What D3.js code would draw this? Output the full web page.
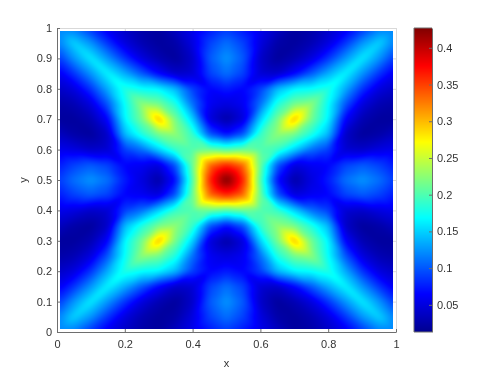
<!DOCTYPE html>
<html>
<head>
<meta charset="utf-8">
<script src="https://d3js.org/d3.v7.min.js"></script>
<style>
  html, body { margin: 0; padding: 0; background: #fff; }
  #chart { position: relative; width: 498px; height: 374px; overflow: hidden; }
  canvas, svg { position: absolute; left: 0; top: 0; }
  text { font-family: "Liberation Sans", Arial, sans-serif; font-size: 11px; fill: #333; }
</style>
</head>
<body>
<div id="chart"></div>
<script>
const xGrid = [0.01, 0.05, 0.1, 0.15, 0.2, 0.25, 0.3, 0.35, 0.4, 0.45, 0.5, 0.55, 0.6, 0.65, 0.7, 0.75, 0.8, 0.85, 0.9, 0.95, 0.99];
const yGrid = [0.99, 0.95, 0.9, 0.85, 0.8, 0.75, 0.7, 0.65, 0.6, 0.55, 0.5, 0.45, 0.4, 0.35, 0.3, 0.25, 0.2, 0.15, 0.1, 0.05, 0.01];

// one row per yGrid entry
const zValues = [
  [.12, .12, .09, .06, .04, .025, .02, .035, .055, .075, .09, .075, .055, .035, .02, .025, .04, .06, .09, .12, .12],
  [.12, .15, .125, .085, .05, .03, .02, .025, .05, .09, .11, .09, .05, .025, .02, .03, .05, .085, .125, .15, .12],
  [.09, .125, .16, .125, .085, .05, .03, .02, .04, .10, .125, .10, .04, .02, .03, .05, .085, .125, .16, .125, .09],
  [.06, .085, .125, .165, .135, .10, .065, .04, .045, .09, .11, .09, .045, .04, .065, .10, .135, .165, .125, .085, .06],
  [.04, .05, .085, .135, .18, .17, .165, .14, .09, .065, .075, .065, .09, .14, .165, .17, .18, .135, .085, .05, .04],
  [.025, .03, .05, .10, .17, .225, .215, .18, .11, .06, .05, .06, .11, .18, .215, .225, .17, .10, .05, .03, .025],
  [.02, .02, .03, .065, .165, .215, .30, .215, .15, .05, .025, .05, .15, .215, .30, .215, .165, .065, .03, .02, .02],
  [.035, .025, .02, .04, .14, .18, .215, .225, .19, .10, .07, .10, .19, .225, .215, .18, .14, .04, .02, .025, .035],
  [.055, .05, .04, .045, .09, .11, .15, .19, .20, .21, .20, .21, .20, .19, .15, .11, .09, .045, .04, .05, .055],
  [.075, .09, .10, .09, .065, .06, .05, .10, .21, .33, .36, .33, .21, .10, .05, .06, .065, .09, .10, .09, .075],
  [.09, .11, .125, .11, .075, .05, .025, .07, .20, .36, .43, .36, .20, .07, .025, .05, .075, .11, .125, .11, .09],
  [.075, .09, .10, .09, .065, .06, .05, .10, .21, .33, .36, .33, .21, .10, .05, .06, .065, .09, .10, .09, .075],
  [.055, .05, .04, .045, .09, .11, .15, .19, .20, .21, .20, .21, .20, .19, .15, .11, .09, .045, .04, .05, .055],
  [.035, .025, .02, .04, .14, .18, .215, .225, .19, .10, .07, .10, .19, .225, .215, .18, .14, .04, .02, .025, .035],
  [.02, .02, .03, .065, .165, .215, .30, .215, .15, .05, .025, .05, .15, .215, .30, .215, .165, .065, .03, .02, .02],
  [.025, .03, .05, .10, .17, .225, .215, .18, .11, .06, .05, .06, .11, .18, .215, .225, .17, .10, .05, .03, .025],
  [.04, .05, .085, .135, .18, .17, .165, .14, .09, .065, .075, .065, .09, .14, .165, .17, .18, .135, .085, .05, .04],
  [.06, .085, .125, .165, .135, .10, .065, .04, .045, .09, .11, .09, .045, .04, .065, .10, .135, .165, .125, .085, .06],
  [.09, .125, .16, .125, .085, .05, .03, .02, .04, .10, .125, .10, .04, .02, .03, .05, .085, .125, .16, .125, .09],
  [.12, .15, .125, .085, .05, .03, .02, .025, .05, .09, .11, .09, .05, .025, .02, .03, .05, .085, .125, .15, .12],
  [.12, .12, .09, .06, .04, .025, .02, .035, .055, .075, .09, .075, .055, .035, .02, .025, .04, .06, .09, .12, .12]
];

const axisTicks = [0, 0.1, 0.2, 0.3, 0.4, 0.5, 0.6, 0.7, 0.8, 0.9, 1];
const xTicks = [0, 0.2, 0.4, 0.6, 0.8, 1];
const barTicks = [0.05, 0.1, 0.15, 0.2, 0.25, 0.3, 0.35, 0.4];
const zRange = [0.013, 0.427];
const jetStops = [0, 0.125, 0.375, 0.625, 0.875, 1];
const jetColors = ["#00008f", "#0000ff", "#00ffff", "#ffff00", "#ff0000", "#800000"];

const width = 498;
const height = 374;
const plot = { left: 57, right: 396, top: 28, bottom: 332 };
const bar = { left: 414, right: 432 };

const xScale = d3.scaleLinear().domain([0, 1]).range([plot.left, plot.right]);
const yScale = d3.scaleLinear().domain([0, 1]).range([plot.bottom, plot.top]);
const barScale = d3.scaleLinear().domain(zRange).range([plot.bottom, plot.top]);
const color = d3.scaleLinear()
  .domain(jetStops.map(t => zRange[0] + t * (zRange[1] - zRange[0])))
  .range(jetColors)
  .clamp(true);

const chart = d3.select("#chart");
const canvas = chart.append("canvas").attr("width", width).attr("height", height);
const ctx = canvas.node().getContext("2d");

// position of v between the grid entries, as index + fraction
function gridPos(v, grid, ascending) {
  const lookup = ascending ? grid : grid.slice().reverse();
  let i = d3.bisectRight(lookup, v) - 1;
  i = Math.max(0, Math.min(lookup.length - 2, i));
  const f = (v - lookup[i]) / (lookup[i + 1] - lookup[i]);
  return ascending ? [i, f] : [grid.length - 2 - i, 1 - f];
}

// triangles like a shaded mesh, the cell diagonal follows the ridge of each quadrant
function sample(x, y) {
  const [j, fx] = gridPos(x, xGrid, true);
  const [i, fy] = gridPos(y, yGrid, false);
  const a = zValues[i][j];
  const b = zValues[i][j + 1];
  const c = zValues[i + 1][j];
  const d = zValues[i + 1][j + 1];
  if ((i < 10) === (j < 10)) {
    return fx >= fy ? a + (b - a) * fx + (d - b) * fy : a + (c - a) * fy + (d - c) * fx;
  }
  return fx + fy <= 1 ? a + (b - a) * fx + (c - a) * fy : d + (c - d) * (1 - fx) + (b - d) * (1 - fy);
}

// the reference is soft, so average a few samples around each pixel
const soften = [-0.01, -0.005, 0, 0.005, 0.01];
const clampX = v => Math.max(xGrid[0], Math.min(xGrid[xGrid.length - 1], v));
function softSample(x, y) {
  return d3.mean(soften.flatMap(dx => soften.map(dy => sample(clampX(x + dx), clampX(y + dy)))));
}

const px0 = Math.round(xScale(xGrid[0]));
const px1 = Math.round(xScale(xGrid[xGrid.length - 1]));
const py0 = Math.round(yScale(yGrid[0]));
const py1 = Math.round(yScale(yGrid[yGrid.length - 1]));

d3.range(py0, py1).forEach(py => {
  d3.range(px0, px1).forEach(px => {
    ctx.fillStyle = color(softSample(xScale.invert(px + 0.5), yScale.invert(py + 0.5)));
    ctx.fillRect(px, py, 1, 1);
  });
});

// colorbar
d3.range(plot.top, plot.bottom).forEach(py => {
  ctx.fillStyle = color(barScale.invert(py + 0.5));
  ctx.fillRect(bar.left, py, bar.right - bar.left, 1);
});

const svg = chart.append("svg").attr("width", width).attr("height", height);

function styleAxis(g, stroke) {
  g.selectAll("path").attr("stroke", stroke);
  g.selectAll("line").attr("stroke", stroke);
  g.selectAll("text").style("font-size", "11px").attr("fill", "#333");
}

// box ghost on the top and right
svg.append("g")
  .attr("transform", `translate(0,${plot.top})`)
  .call(d3.axisBottom(xScale).tickValues(xTicks).tickSize(3).tickFormat(""))
  .call(styleAxis, "#d9d9d9");
svg.append("g")
  .attr("transform", `translate(${plot.right},0)`)
  .call(d3.axisRight(yScale).tickValues(axisTicks).tickSize(-3).tickFormat(""))
  .call(styleAxis, "#d9d9d9");

svg.append("g")
  .attr("transform", `translate(0,${plot.bottom})`)
  .call(d3.axisBottom(xScale).tickValues(xTicks).tickSizeInner(-3).tickSizeOuter(0).tickPadding(8).tickFormat(d3.format("")))
  .call(styleAxis, "#6e6e6e");
svg.append("g")
  .attr("transform", `translate(${plot.left},0)`)
  .call(d3.axisLeft(yScale).tickValues(axisTicks).tickSizeInner(-3).tickSizeOuter(0).tickPadding(5).tickFormat(d3.format("")))
  .call(styleAxis, "#6e6e6e");

svg.append("g")
  .attr("transform", `translate(${bar.right},0)`)
  .call(d3.axisRight(barScale).tickValues(barTicks).tickSizeInner(-3).tickSizeOuter(0).tickPadding(5).tickFormat(d3.format("")))
  .call(styleAxis, "#6e6e6e");
svg.append("line")
  .attr("x1", bar.left).attr("x2", bar.left)
  .attr("y1", plot.top).attr("y2", plot.bottom)
  .attr("stroke", "#6e6e6e");
svg.append("line")
  .attr("x1", bar.left).attr("x2", bar.right)
  .attr("y1", plot.top).attr("y2", plot.top)
  .attr("stroke", "#6e6e6e");
svg.append("line")
  .attr("x1", bar.left).attr("x2", bar.right)
  .attr("y1", plot.bottom).attr("y2", plot.bottom)
  .attr("stroke", "#6e6e6e");

svg.append("text")
  .attr("x", (plot.left + plot.right) / 2)
  .attr("y", 367)
  .style("text-anchor", "middle")
  .text("x");

svg.append("text")
  .attr("transform", `translate(27,${(plot.top + plot.bottom) / 2}) rotate(-90)`)
  .style("text-anchor", "middle")
  .text("y");
</script>
</body>
</html>
